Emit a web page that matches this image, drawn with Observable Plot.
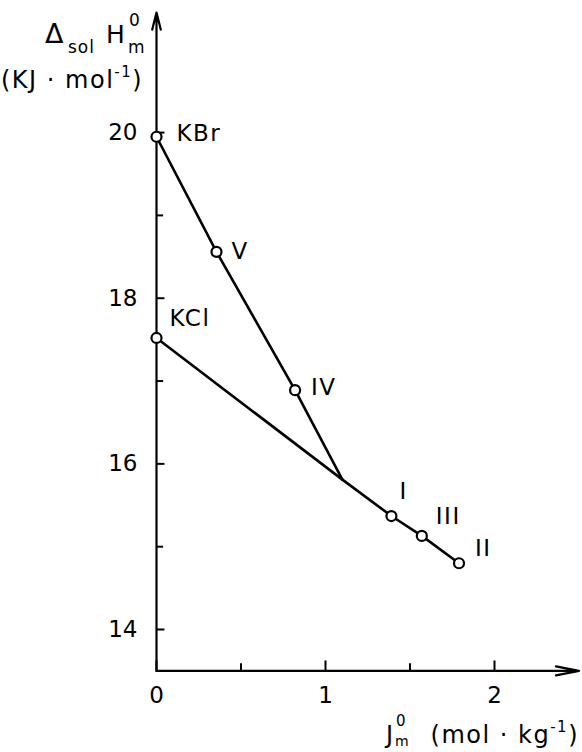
<!DOCTYPE html>
<html><head><meta charset="utf-8">
<script src="https://cdn.jsdelivr.net/npm/d3@7"></script>
<script src="https://cdn.jsdelivr.net/npm/@observablehq/plot@0.6"></script>
<style>body{margin:0;background:#fff} svg{display:block}</style>
</head><body><div id="chart"></div>
<script>
// ---- data ----
const pointLabels = ["KBr", "V", "IV", "KCl", "I", "III", "II"];
const jmValues    = [0, 0.355, 0.82, 0, 1.39, 1.57, 1.79];
const dHValues    = [19.95, 18.56, 16.89, 17.52, 15.37, 15.13, 14.80];
const pointSeries = ["KBr", "KBr", "KBr", "KCl", "KCl", "KCl", "KCl"];
const junctionJm = 1.10, junctionDH = 15.81;
const xTickLabels = [0, 1, 2];
const xMinorTicks = [0.5, 1.5];
const yTickLabels = [14, 16, 18, 20];
const yMinorTicks = [15, 17, 19];
const xDomain = [0, 2.5];
const yDomain = [13.5, 21.45];

// ---- build tables ----
const points = pointLabels.map((label, i) => ({label, x: jmValues[i], y: dHValues[i], series: pointSeries[i]}));
const lineData = ["KBr", "KCl"].flatMap(s =>
  [...points.filter(p => p.series === s), {label: "", x: junctionJm, y: junctionDH, series: s}]
    .sort((a, b) => a.x - b.x));

const labelStyle = {KBr: [20, -3], V: [15, 0], IV: [16, -3], KCl: [13, -19], I: [8, -24], III: [14, -19], II: [16, -15]};
const font = "DejaVu Sans";

const labelMarks = pointLabels.map(l => Plot.text(points.filter(p => p.label === l), {
  x: "x", y: "y", text: "label", dx: labelStyle[l][0], dy: labelStyle[l][1],
  textAnchor: "start", fontSize: 23, fill: "black", className: "ptlabel"
}));

const svg = Plot.plot({
  width: 582, height: 752,
  marginLeft: 156, marginRight: 3.5, marginTop: 12, marginBottom: 81.6,
  style: {fontFamily: font, background: "white", color: "black"},
  x: {domain: xDomain},
  y: {domain: yDomain},
  marks: [
    Plot.arrow([{x1: xDomain[0], y1: yDomain[0], x2: xDomain[1], y2: yDomain[0]}],
      {x1: "x1", y1: "y1", x2: "x2", y2: "y2", stroke: "black", strokeWidth: 2.2, headLength: 16, headAngle: 22}),
    Plot.arrow([{x1: xDomain[0], y1: yDomain[0], x2: xDomain[0], y2: yDomain[1]}],
      {x1: "x1", y1: "y1", x2: "x2", y2: "y2", stroke: "black", strokeWidth: 2.2, headLength: 12, headAngle: 28}),
    Plot.ruleY(yTickLabels, {y: d => d, x1: 0, x2: 0.05, stroke: "black", strokeWidth: 2}),
    Plot.ruleY(yMinorTicks, {y: d => d, x1: 0, x2: 0.042, stroke: "black", strokeWidth: 2}),
    Plot.ruleX(xTickLabels, {x: d => d, y1: yDomain[0], y2: yDomain[0] + 0.12, stroke: "black", strokeWidth: 2}),
    Plot.ruleX(xMinorTicks, {x: d => d, y1: yDomain[0], y2: yDomain[0] + 0.085, stroke: "black", strokeWidth: 2}),
    Plot.axisY({ticks: yTickLabels, tickSize: 0, tickPadding: 19, fontSize: 23, label: null, tickFormat: d3.format("d")}),
    Plot.axisX({ticks: xTickLabels, tickSize: 0, tickPadding: 16, fontSize: 23, label: null, tickFormat: d3.format("d")}),
    Plot.line(lineData, {x: "x", y: "y", z: "series", stroke: "black", strokeWidth: 2.6}),
    Plot.dot(points, {x: "x", y: "y", r: 5, fill: "white", stroke: "black", strokeWidth: 2.2}),
    ...labelMarks
  ]
});

const s = d3.select(svg);
s.selectAll(".ptlabel text").attr("letter-spacing", 1.5);

// ---- axis titles (with sub/superscripts) ----
const t = (x, y, size, str, anchor = "start", ls = 0) => s.append("text")
  .attr("x", x).attr("y", y).attr("font-size", size).attr("font-family", font)
  .attr("text-anchor", anchor).attr("letter-spacing", ls).attr("fill", "black").text(str);

// y title
t(45, 43, 27, "Δ");
t(68, 53, 17, "sol", "start", 1);
t(106, 43, 25, "H");
t(129, 26, 17, "0");
t(128, 53, 17, "m");
const yt2 = s.append("text").attr("x", 1).attr("y", 88).attr("font-size", 24)
  .attr("text-anchor", "start").attr("font-family", font).attr("letter-spacing", 1.5).attr("fill", "black");
yt2.append("tspan").text("(KJ · mol");
yt2.append("tspan").attr("dy", -11).attr("font-size", 15).text("-1");
yt2.append("tspan").attr("dy", 11).text(")");

// x title
t(386, 743, 24, "J");
t(396, 726, 15, "0");
t(395, 746, 14, "m");
const xt2 = s.append("text").attr("x", 579).attr("y", 743).attr("font-size", 24)
  .attr("text-anchor", "end").attr("font-family", font).attr("letter-spacing", 1.5).attr("fill", "black");
xt2.append("tspan").text("(mol · kg");
xt2.append("tspan").attr("dy", -11).attr("font-size", 15).text("-1");
xt2.append("tspan").attr("dy", 11).text(")");

document.getElementById("chart").appendChild(svg);
</script>
</body></html>
